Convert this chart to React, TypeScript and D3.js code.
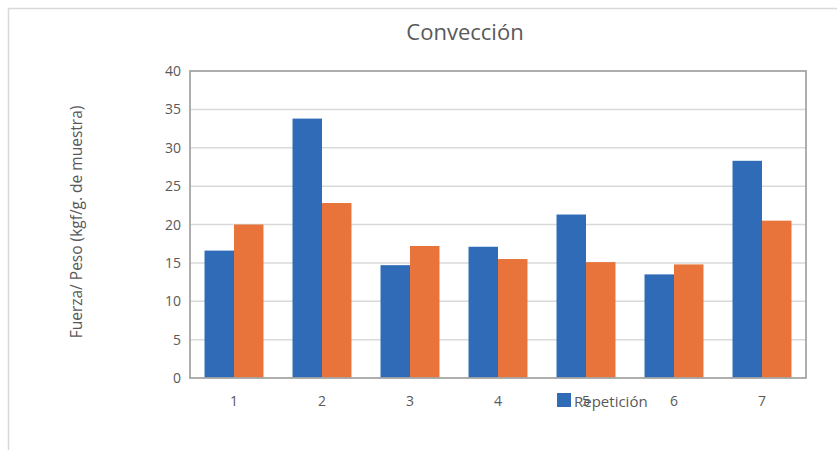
import React from "react";
import * as d3 from "d3";

const categories = ["1", "2", "3", "4", "5", "6", "7"];
const serieA = [16.6, 33.8, 14.7, 17.1, 21.3, 13.5, 28.3];
const serieB = [20.0, 22.8, 17.2, 15.5, 15.1, 14.8, 20.5];
const yTicks = [0, 5, 10, 15, 20, 25, 30, 35, 40];
const title = "Convección";
const yLabel = "Fuerza/ Peso (kgf/g. de muestra)";
const legendLabel = "Repetición";

const W = 837, H = 450;
const plot = { left: 190, right: 806, top: 71, bottom: 378 };
const BLUE = "#2f6bb6";
const ORANGE = "#e8743b";
const FONT = "'Open Sans', 'Liberation Sans', sans-serif";

export default function App() {
  const x = d3.scaleBand<string>().domain(categories).range([plot.left, plot.right]).paddingInner(0.33).paddingOuter(0.165);
  const y = d3.scaleLinear().domain([0, 40]).range([plot.bottom, plot.top]);
  const sub = d3.scaleBand<string>().domain(["a", "b"]).range([0, x.bandwidth()]);
  const step = (plot.right - plot.left) / categories.length;
  const center = (i: number) => plot.left + step * (i + 0.5);

  return (
    <svg width={W} height={H} style={{ position: "absolute", left: 0, top: 0, background: "#fff" }} fontFamily={FONT}>
      <rect x={8.5} y={8.5} width={W + 10} height={H + 10} fill="#fff" stroke="#d9d9d9" strokeWidth={1.5} />
      <text x={465} y={40} textAnchor="middle" fontSize={22} fill="#595959">{title}</text>
      {yTicks.map((t) => (
        <g key={t}>
          {t > 0 && t < 40 && (
            <line x1={plot.left} x2={plot.right} y1={y(t)} y2={y(t)} stroke="#d9d9d9" strokeWidth={1.5} />
          )}
          <text x={181} y={y(t) + 5} textAnchor="end" fontSize={14} fill="#595959">{t}</text>
        </g>
      ))}
      {categories.map((c, i) => {
        const x0 = center(i) - x.bandwidth() / 2;
        return (
          <g key={c}>
            <rect x={x0 + (sub("a") as number)} y={y(serieA[i])} width={sub.bandwidth()} height={y(0) - y(serieA[i])} fill={BLUE} />
            <rect x={x0 + (sub("b") as number)} y={y(serieB[i])} width={sub.bandwidth()} height={y(0) - y(serieB[i])} fill={ORANGE} />
            <text x={center(i)} y={406} textAnchor="middle" fontSize={14} fill="#595959">{c}</text>
          </g>
        );
      })}
      <rect x={plot.left} y={plot.top} width={plot.right - plot.left} height={plot.bottom - plot.top} fill="none" stroke="#a6a6a6" strokeWidth={1.8} />
      <rect x={557} y={393} width={14} height={14} fill={BLUE} />
      <text x={574} y={407} fontSize={15} fill="#595959">{legendLabel}</text>
      <text transform={`translate(82,222) rotate(-90)`} textAnchor="middle" fontSize={15.5} fill="#595959">{yLabel}</text>
    </svg>
  );
}
